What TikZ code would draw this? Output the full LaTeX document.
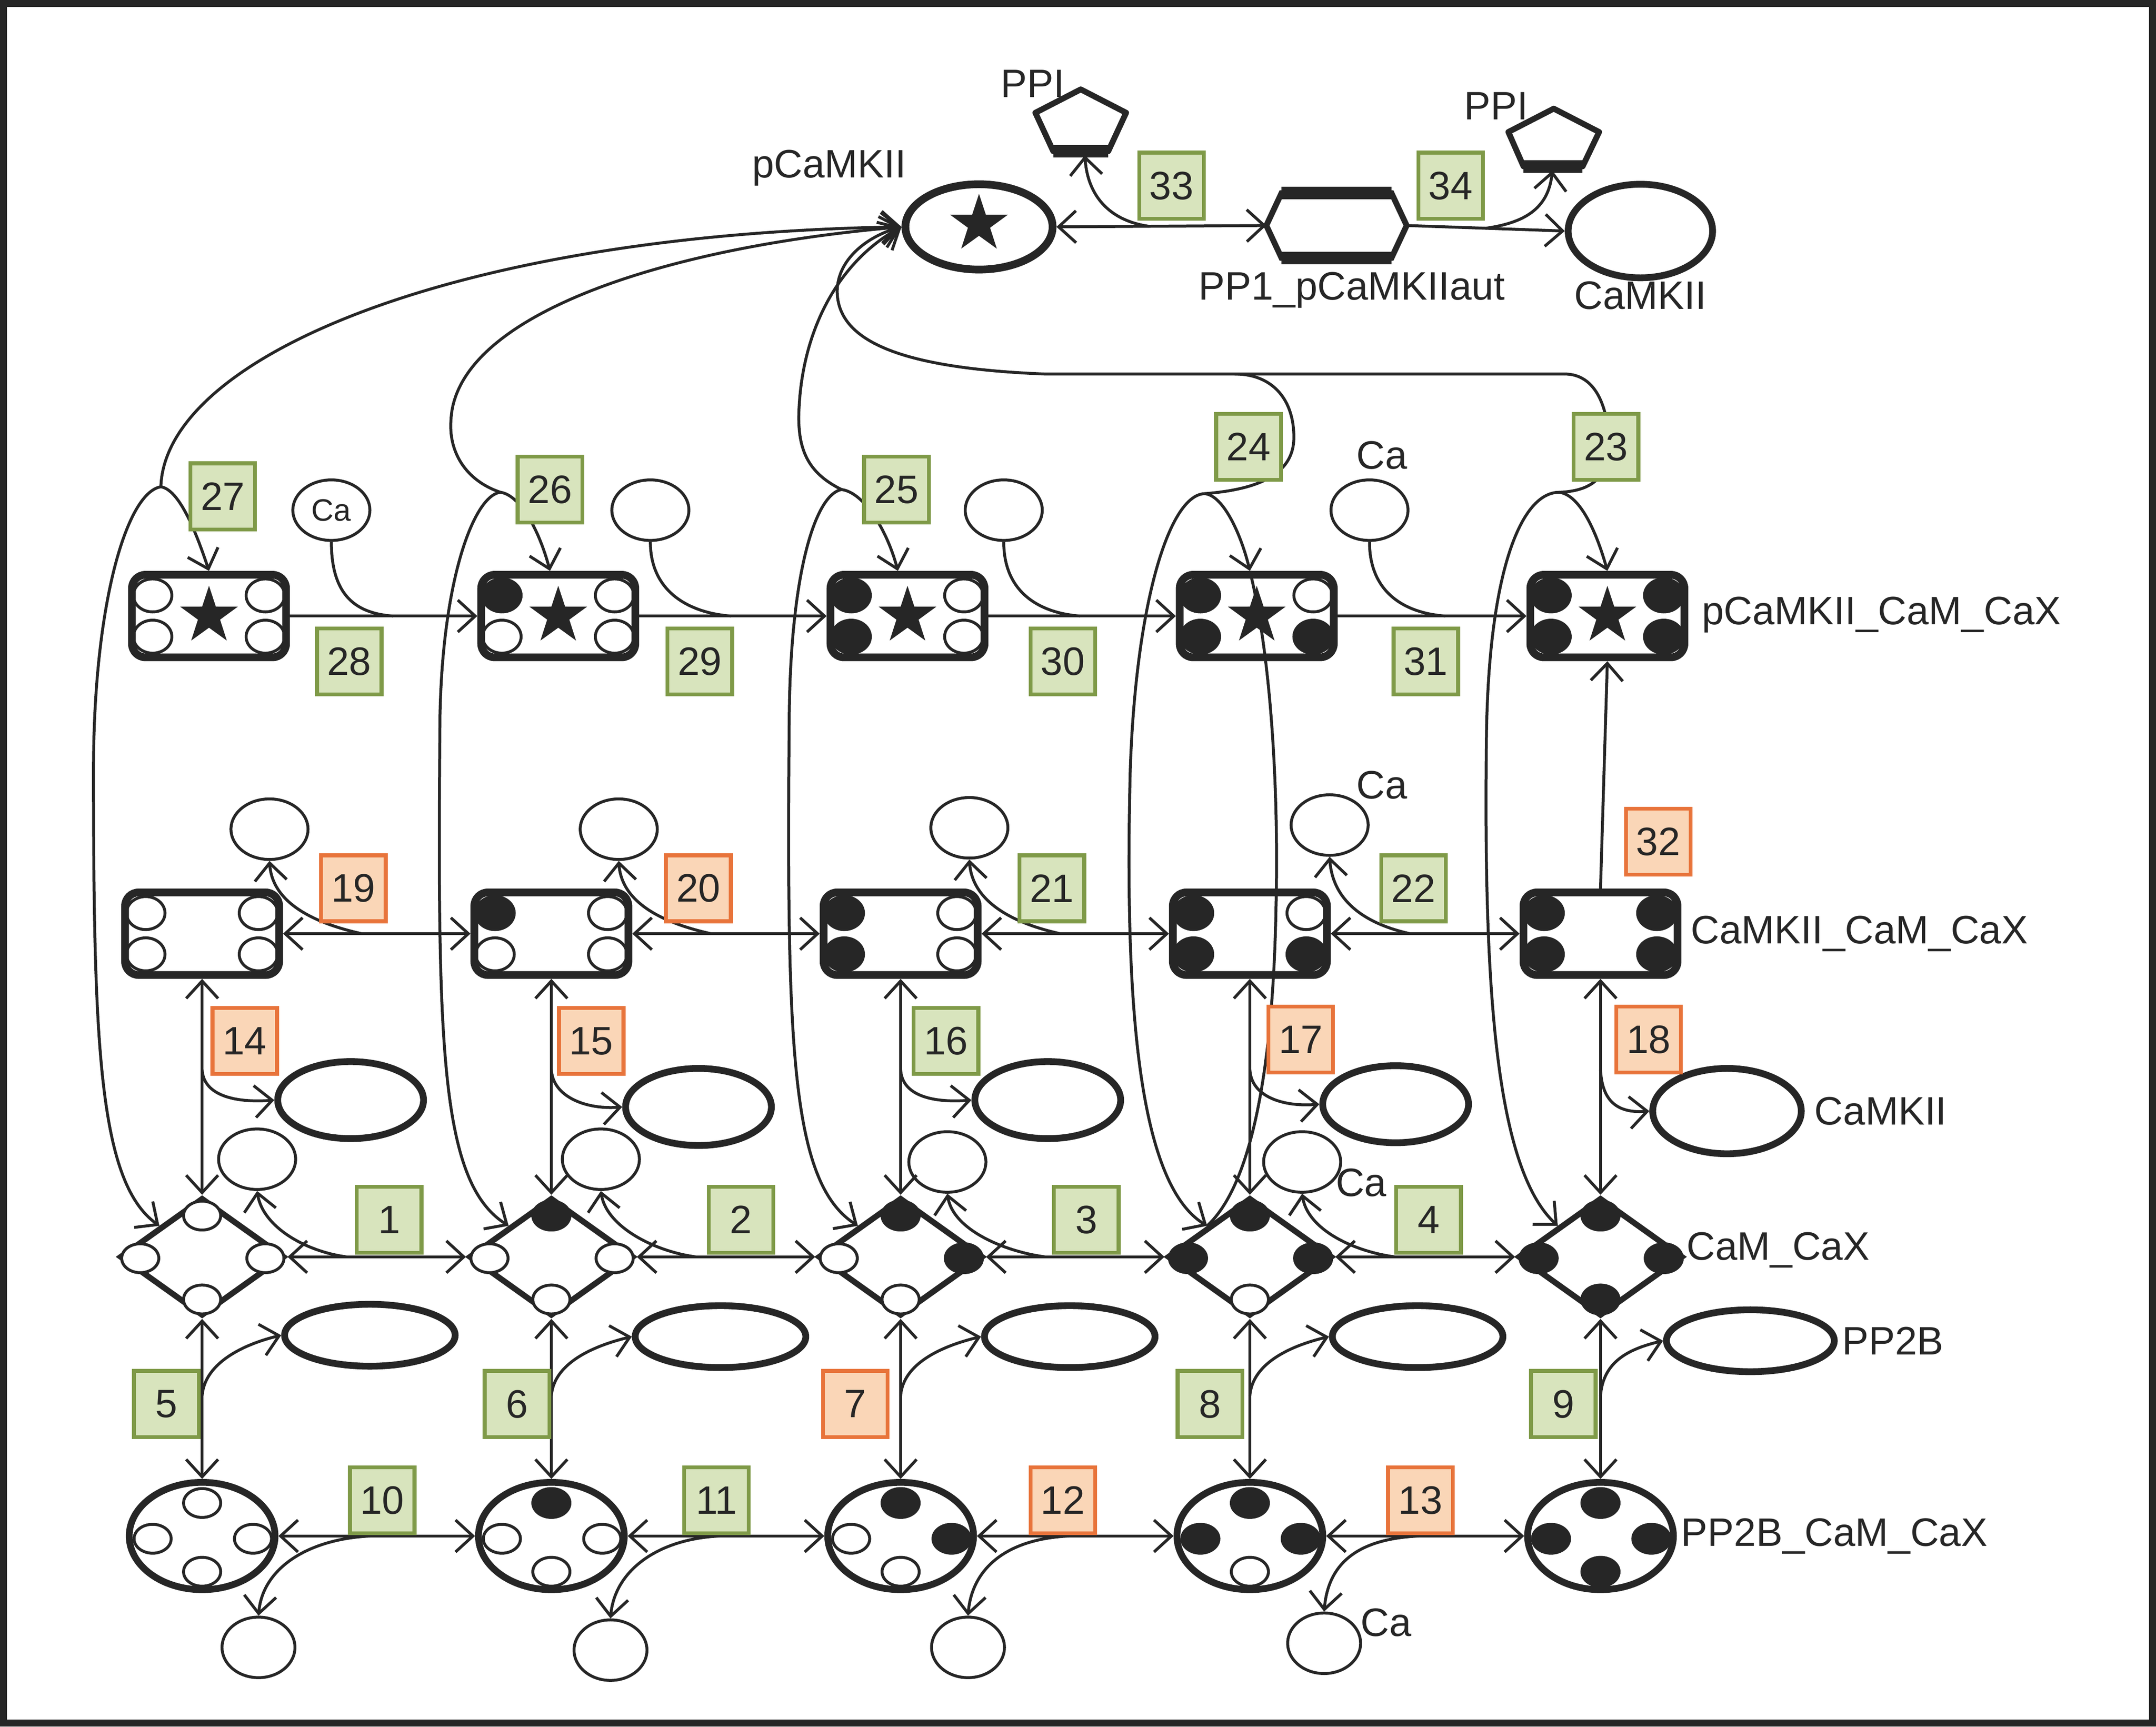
\documentclass[tikz,border=0pt]{standalone}
\usepackage{fontspec}
\setmainfont{Liberation Sans}
\usetikzlibrary{calc,arrows.meta,shapes.geometric}
\definecolor{ink}{HTML}{262626}
\definecolor{fwdfill}{HTML}{D8E4BD}
\definecolor{fwdline}{HTML}{7F9A48}
\definecolor{revfill}{HTML}{FAD6B7}
\definecolor{revline}{HTML}{E8743B}
\tikzset{
  lab/.style={text=ink, font=\fontsize{8.2}{9.8}\selectfont, inner sep=0pt},
  fwd/.style={draw=fwdline, fill=fwdfill, line width=0.8pt, minimum width=0.47cm, minimum height=0.48cm, inner sep=0pt, text=ink, font=\fontsize{8.2}{9.8}\selectfont},
  rev/.style={fwd, draw=revline, fill=revfill},
  rxn/.style={draw=ink, line width=0.6pt},
  ion/.style={ellipse, draw=ink, fill=white, line width=0.6pt, minimum width=0.56cm, minimum height=0.44cm, inner sep=0pt},
  prot/.style={ellipse, draw=ink, fill=white, line width=1.4pt, minimum width=1.06cm, minimum height=0.56cm, inner sep=0pt},
  cplx/.style={rectangle, rounded corners=2.8pt, draw=ink, fill=white, line width=1.6pt, minimum width=1.12cm, minimum height=0.6cm, inner sep=0pt},
  corners/.style n args={4}{path picture={
      \draw[#1] ($(path picture bounding box.center)+(-41,-15)$) ellipse[bs];
      \draw[#2] ($(path picture bounding box.center)+(41,-15)$) ellipse[bs];
      \draw[#3] ($(path picture bounding box.center)+(-41,15)$) ellipse[bs];
      \draw[#4] ($(path picture bounding box.center)+(41,15)$) ellipse[bs];}},
  cam/.style={diamond, draw=ink, fill=white, line width=1.2pt, minimum width=1.2cm, minimum height=0.86cm, inner sep=0pt},
  ppc/.style={ellipse, draw=ink, fill=white, line width=1.4pt, minimum width=1.06cm, minimum height=0.78cm, inner sep=0pt},
  hexa/.style={rectangle, minimum width=1.02cm, minimum height=0.47cm, inner sep=0pt, outer sep=0pt},
  kstar/.style={star, star points=5, star point ratio=2.6, fill=ink, minimum size=0.44cm, inner sep=0pt},
  siteO/.style={draw=ink, fill=white, line width=0.6pt},
  siteF/.style={draw=ink, fill=ink, line width=0.6pt},
  bs/.style={x radius=14, y radius=12},
  ds/.style={x radius=13.5, y radius=10.5},
  >={Straight Barb[length=3.6pt,width=6.6pt]}
}

\begin{document}
\begin{tikzpicture}[x=0.01cm, y=-0.01cm]
    \useasboundingbox (0,0) rectangle (1568,1255.6);
    \draw[ink, line width=1.5pt] (2.5,2.5) rectangle (1565.5,1253);

    % top: pCaMKII, PP1 complex, CaMKII, PPI
    \node[prot, minimum width=1.07cm, minimum height=0.62cm, line width=1.6pt] (pCaMKII) at (712,165) {};
    \node[kstar] (pCaMKIIs) at (712,163) {};
    \node[hexa] (PP1aut) at (972,164) {};
    \draw[ink, line width=1.2pt, fill=white] (PP1aut.west) -- ($(PP1aut.north west)+(11,0)$) -- ($(PP1aut.north east)+(-11,0)$) -- (PP1aut.east) -- ($(PP1aut.south east)+(-11,0)$) -- ($(PP1aut.south west)+(11,0)$) -- cycle;
    \draw[ink, line width=2.6pt] ($(PP1aut.north west)+(11,0)$) -- ($(PP1aut.north east)+(-11,0)$);
    \draw[ink, line width=2.6pt] ($(PP1aut.south west)+(11,0)$) -- ($(PP1aut.south east)+(-11,0)$);
    \node[prot, minimum width=1.05cm, minimum height=0.68cm] (CaMKIItop) at (1193,168) {};
    \draw[ink, line width=1.2pt, fill=white, line join=round] (786,65) -- (819,82) -- (806,110) -- (766,110) -- (753,82) -- cycle;
    \draw[ink, line width=2.6pt] (766,110) -- (806,110);
    \coordinate (ppiA) at (789,113);
    \draw[ink, line width=1.2pt, fill=white, line join=round] (1130,79) -- (1163,96) -- (1151,121) -- (1108,121) -- (1097,96) -- cycle;
    \draw[ink, line width=2.6pt] (1108,121) -- (1151,121);
    \coordinate (ppiB) at (1129,124);

    % pCaMKII_CaM_CaX
    \node[cplx, corners={siteO}{siteO}{siteO}{siteO}] (pcx0) at (152,448) {};
    \node[cplx, corners={siteF}{siteO}{siteO}{siteO}] (pcx1) at (406,448) {};
    \node[cplx, corners={siteF}{siteO}{siteF}{siteO}] (pcx2) at (660,448) {};
    \node[cplx, corners={siteF}{siteO}{siteF}{siteF}] (pcx3) at (914,448) {};
    \node[cplx, corners={siteF}{siteF}{siteF}{siteF}] (pcx4) at (1169,448) {};
    \node[kstar] (pcx0s) at (pcx0) {};
    \node[kstar] (pcx1s) at (pcx1) {};
    \node[kstar] (pcx2s) at (pcx2) {};
    \node[kstar] (pcx3s) at (pcx3) {};
    \node[kstar] (pcx4s) at (pcx4) {};

    % CaMKII_CaM_CaX
    \node[cplx, corners={siteO}{siteO}{siteO}{siteO}] (kcx0) at (147,679) {};
    \node[cplx, corners={siteF}{siteO}{siteO}{siteO}] (kcx1) at (401,679) {};
    \node[cplx, corners={siteF}{siteO}{siteF}{siteO}] (kcx2) at (655,679) {};
    \node[cplx, corners={siteF}{siteO}{siteF}{siteF}] (kcx3) at (909,679) {};
    \node[cplx, corners={siteF}{siteF}{siteF}{siteF}] (kcx4) at (1164,679) {};

    % CaM_CaX
    \node[cam] (cmx0) at (147,914) {};
    \node[cam] (cmx1) at (401,914) {};
    \node[cam] (cmx2) at (655,914) {};
    \node[cam] (cmx3) at (909,914) {};
    \node[cam] (cmx4) at (1164,914) {};
    \draw[siteO] ($(cmx0)+(0,-30)$) ellipse[ds] ($(cmx0)+(-45,1)$) ellipse[ds] ($(cmx0)+(46,1)$) ellipse[ds] ($(cmx0)+(0,31)$) ellipse[ds];
    \draw[siteF] ($(cmx1)+(0,-30)$) ellipse[ds];
    \draw[siteO] ($(cmx1)+(-45,1)$) ellipse[ds] ($(cmx1)+(46,1)$) ellipse[ds] ($(cmx1)+(0,31)$) ellipse[ds];
    \draw[siteF] ($(cmx2)+(0,-30)$) ellipse[ds] ($(cmx2)+(46,1)$) ellipse[ds];
    \draw[siteO] ($(cmx2)+(-45,1)$) ellipse[ds] ($(cmx2)+(0,31)$) ellipse[ds];
    \draw[siteF] ($(cmx3)+(0,-30)$) ellipse[ds] ($(cmx3)+(-45,1)$) ellipse[ds] ($(cmx3)+(46,1)$) ellipse[ds];
    \draw[siteO] ($(cmx3)+(0,31)$) ellipse[ds];
    \draw[siteF] ($(cmx4)+(0,-30)$) ellipse[ds] ($(cmx4)+(-45,1)$) ellipse[ds] ($(cmx4)+(46,1)$) ellipse[ds] ($(cmx4)+(0,31)$) ellipse[ds];

    % PP2B_CaM_CaX
    \node[ppc] (bcx0) at (147,1117) {};
    \node[ppc] (bcx1) at (401,1117) {};
    \node[ppc] (bcx2) at (655,1117) {};
    \node[ppc] (bcx3) at (909,1117) {};
    \node[ppc] (bcx4) at (1164,1117) {};
    \draw[siteO] ($(bcx0)+(0,-24)$) ellipse[ds] ($(bcx0)+(-36,2)$) ellipse[ds] ($(bcx0)+(37,2)$) ellipse[ds] ($(bcx0)+(0,26)$) ellipse[ds];
    \draw[siteF] ($(bcx1)+(0,-24)$) ellipse[ds];
    \draw[siteO] ($(bcx1)+(-36,2)$) ellipse[ds] ($(bcx1)+(37,2)$) ellipse[ds] ($(bcx1)+(0,26)$) ellipse[ds];
    \draw[siteF] ($(bcx2)+(0,-24)$) ellipse[ds] ($(bcx2)+(37,2)$) ellipse[ds];
    \draw[siteO] ($(bcx2)+(-36,2)$) ellipse[ds] ($(bcx2)+(0,26)$) ellipse[ds];
    \draw[siteF] ($(bcx3)+(0,-24)$) ellipse[ds] ($(bcx3)+(-36,2)$) ellipse[ds] ($(bcx3)+(37,2)$) ellipse[ds];
    \draw[siteO] ($(bcx3)+(0,26)$) ellipse[ds];
    \draw[siteF] ($(bcx4)+(0,-24)$) ellipse[ds] ($(bcx4)+(-36,2)$) ellipse[ds] ($(bcx4)+(37,2)$) ellipse[ds] ($(bcx4)+(0,26)$) ellipse[ds];

    % free Ca, CaMKII and PP2B
    \node[ion, font=\fontsize{6.4}{7}\selectfont, text=ink] (caA0) at (241,371) {Ca};
    \node[ion] (caA1) at (473,371) {};
    \node[ion] (caA2) at (730,371) {};
    \node[ion] (caA3) at (996,371) {};
    \node[ion] (caB0) at (196,603) {};
    \node[ion] (caB1) at (450,603) {};
    \node[ion] (caB2) at (705,602) {};
    \node[ion] (caB3) at (967,600) {};
    \node[ion] (caC0) at (187,843) {};
    \node[ion] (caC1) at (437,843) {};
    \node[ion] (caC2) at (689,845) {};
    \node[ion] (caC3) at (947,845) {};
    \node[ion, minimum width=0.53cm] (caD0) at (188,1198) {};
    \node[ion, minimum width=0.53cm] (caD1) at (444,1200) {};
    \node[ion, minimum width=0.53cm] (caD2) at (704,1198) {};
    \node[ion, minimum width=0.53cm] (caD3) at (963,1195) {};
    \node[prot] (kin0) at (255,800) {};
    \node[prot] (kin1) at (508,805) {};
    \node[prot] (kin2) at (762,800) {};
    \node[prot] (kin3) at (1015,803) {};
    \node[prot, minimum width=1.08cm, minimum height=0.62cm] (kin4) at (1256,808) {};
    \node[prot, minimum width=1.24cm, minimum height=0.45cm] (pp2b0) at (269,971) {};
    \node[prot, minimum width=1.24cm, minimum height=0.45cm] (pp2b1) at (524,972) {};
    \node[prot, minimum width=1.24cm, minimum height=0.45cm] (pp2b2) at (778,972) {};
    \node[prot, minimum width=1.24cm, minimum height=0.45cm] (pp2b3) at (1031,972) {};
    \node[prot, minimum width=1.22cm, minimum height=0.45cm] (pp2b4) at (1273,975) {};

    % autophosphorylation and PP1 (33, 34)
    \draw[rxn,<->] (pCaMKII.east) -- (PP1aut.west);
    \draw[rxn,->] ($(pCaMKII.east)!0.44!(PP1aut.west)$) .. controls +(-28,-4) and +(2,30) .. (ppiA);
    \draw[rxn,->] (PP1aut.east) -- (CaMKIItop.west);
    \draw[rxn,->] ($(PP1aut.east)!0.5!(CaMKIItop.west)$) .. controls +(28,-4) and +(-3,28) .. (ppiB);

    % Ca binding on pCaMKII_CaM_CaX (28-31)
    \draw[rxn,->] (pcx0.east) -- (pcx1.west);
    \draw[rxn] (caA0.south) .. controls +(0,38) and +(-28,-2) .. ($(pcx0.east)!0.55!(pcx1.west)$);
    \draw[rxn,->] (pcx1.east) -- (pcx2.west);
    \draw[rxn] (caA1.south) .. controls +(0,38) and +(-28,-2) .. ($(pcx1.east)!0.49!(pcx2.west)$);
    \draw[rxn,->] (pcx2.east) -- (pcx3.west);
    \draw[rxn] (caA2.south) .. controls +(0,38) and +(-28,-2) .. ($(pcx2.east)!0.49!(pcx3.west)$);
    \draw[rxn,->] (pcx3.east) -- (pcx4.west);
    \draw[rxn] (caA3.south) .. controls +(0,38) and +(-28,-2) .. ($(pcx3.east)!0.57!(pcx4.west)$);

    % Ca binding on CaMKII_CaM_CaX (19-22)
    \draw[rxn,<->] (kcx0.east) -- (kcx1.west);
    \draw[rxn,->] ($(kcx0.east)!0.42!(kcx1.west)$) .. controls +(-36,-8) and +(2,30) .. (caB0.south);
    \draw[rxn,<->] (kcx1.east) -- (kcx2.west);
    \draw[rxn,->] ($(kcx1.east)!0.42!(kcx2.west)$) .. controls +(-36,-8) and +(2,30) .. (caB1.south);
    \draw[rxn,<->] (kcx2.east) -- (kcx3.west);
    \draw[rxn,->] ($(kcx2.east)!0.42!(kcx3.west)$) .. controls +(-36,-8) and +(2,30) .. (caB2.south);
    \draw[rxn,<->] (kcx3.east) -- (kcx4.west);
    \draw[rxn,->] ($(kcx3.east)!0.42!(kcx4.west)$) .. controls +(-36,-8) and +(2,30) .. (caB3.south);

    % Ca binding on CaM_CaX (1-4)
    \draw[rxn,<->] (cmx0.east) -- (cmx1.west);
    \draw[rxn,->] ($(cmx0.east)!0.33!(cmx1.west)$) .. controls +(-30,-4) and +(4,26) .. (caC0.south);
    \draw[rxn,<->] (cmx1.east) -- (cmx2.west);
    \draw[rxn,->] ($(cmx1.east)!0.33!(cmx2.west)$) .. controls +(-30,-4) and +(4,26) .. (caC1.south);
    \draw[rxn,<->] (cmx2.east) -- (cmx3.west);
    \draw[rxn,->] ($(cmx2.east)!0.33!(cmx3.west)$) .. controls +(-30,-4) and +(4,26) .. (caC2.south);
    \draw[rxn,<->] (cmx3.east) -- (cmx4.west);
    \draw[rxn,->] ($(cmx3.east)!0.33!(cmx4.west)$) .. controls +(-30,-4) and +(4,26) .. (caC3.south);

    % Ca binding on PP2B_CaM_CaX (10-13)
    \draw[rxn,<->] (bcx0.east) -- (bcx1.west);
    \draw[rxn,->] ($(bcx0.east)!0.47!(bcx1.west)$) .. controls +(-45,2) and +(3,-35) .. (caD0.north);
    \draw[rxn,<->] (bcx1.east) -- (bcx2.west);
    \draw[rxn,->] ($(bcx1.east)!0.47!(bcx2.west)$) .. controls +(-45,2) and +(3,-35) .. (caD1.north);
    \draw[rxn,<->] (bcx2.east) -- (bcx3.west);
    \draw[rxn,->] ($(bcx2.east)!0.47!(bcx3.west)$) .. controls +(-45,2) and +(3,-35) .. (caD2.north);
    \draw[rxn,<->] (bcx3.east) -- (bcx4.west);
    \draw[rxn,->] ($(bcx3.east)!0.47!(bcx4.west)$) .. controls +(-45,2) and +(3,-35) .. (caD3.north);

    % CaMKII binding (14-18)
    \draw[rxn,<->] (kcx0.south) -- (cmx0.north);
    \draw[rxn,->] ($(kcx0.south)!0.42!(cmx0.north)$) .. controls +(1,20) and +(-26,2) .. (kin0.west);
    \draw[rxn,<->] (kcx1.south) -- (cmx1.north);
    \draw[rxn,->] ($(kcx1.south)!0.42!(cmx1.north)$) .. controls +(1,20) and +(-26,2) .. (kin1.west);
    \draw[rxn,<->] (kcx2.south) -- (cmx2.north);
    \draw[rxn,->] ($(kcx2.south)!0.42!(cmx2.north)$) .. controls +(1,20) and +(-26,2) .. (kin2.west);
    \draw[rxn,<->] (kcx3.south) -- (cmx3.north);
    \draw[rxn,->] ($(kcx3.south)!0.42!(cmx3.north)$) .. controls +(1,20) and +(-26,2) .. (kin3.west);
    \draw[rxn,<->] (kcx4.south) -- (cmx4.north);
    \draw[rxn,->] ($(kcx4.south)!0.42!(cmx4.north)$) .. controls +(1,20) and +(-26,2) .. (kin4.west);

    % PP2B binding (5-9)
    \draw[rxn,<->] (cmx0.south) -- (bcx0.north);
    \draw[rxn,->] ($(cmx0.south)!0.48!(bcx0.north)$) .. controls +(2,-25) and +(-25,6) .. (pp2b0.west);
    \draw[rxn,<->] (cmx1.south) -- (bcx1.north);
    \draw[rxn,->] ($(cmx1.south)!0.48!(bcx1.north)$) .. controls +(2,-25) and +(-25,6) .. (pp2b1.west);
    \draw[rxn,<->] (cmx2.south) -- (bcx2.north);
    \draw[rxn,->] ($(cmx2.south)!0.48!(bcx2.north)$) .. controls +(2,-25) and +(-25,6) .. (pp2b2.west);
    \draw[rxn,<->] (cmx3.south) -- (bcx3.north);
    \draw[rxn,->] ($(cmx3.south)!0.48!(bcx3.north)$) .. controls +(2,-25) and +(-25,6) .. (pp2b3.west);
    \draw[rxn,<->] (cmx4.south) -- (bcx4.north);
    \draw[rxn,->] ($(cmx4.south)!0.48!(bcx4.north)$) .. controls +(2,-25) and +(-25,6) .. (pp2b4.west);

    % 32
    \draw[rxn,->] (kcx4.north) -- (pcx4.south);

    % pCaMKII binding loops (23-27)
    \coordinate (top0) at (117,354);
    \coordinate (top1) at (364,358);
    \coordinate (top2) at (612,356);
    \coordinate (top3) at (876,359);
    \coordinate (top4) at (1134,358);
    \coordinate (hubA) at (760,272);
    \coordinate (hubB) at (898,272);
    \coordinate (hubC) at (1138,272);
    \draw[rxn,->] (top0) .. controls (92,358) and (68,440) .. (68,560) .. controls (68,760) and (72,860) .. (cmx0.north west);
    \draw[rxn,->] (top0) .. controls (130,356) and (142,385) .. (pcx0.north);
    \draw[rxn,->] (top0) .. controls (120,260) and (330,170) .. (pCaMKII.west);
    \draw[rxn,->] (top1) .. controls (345,360) and (322,420) .. (320,520) .. controls (318,760) and (320,860) .. (cmx1.north west);
    \draw[rxn,->] (top1) .. controls (378,360) and (392,385) .. ($(pcx1.north)+(-6,0)$);
    \draw[rxn,->] (top1) .. controls (340,350) and (326,330) .. (328,305) .. controls (332,230) and (480,180) .. (pCaMKII.west);
    \draw[rxn,->] (top2) .. controls (592,360) and (575,420) .. (574,520) .. controls (572,760) and (575,860) .. (cmx2.north west);
    \draw[rxn,->] (top2) .. controls (628,358) and (645,385) .. ($(pcx2.north)+(-7,0)$);
    \draw[rxn,->] (top2) .. controls (590,345) and (580,330) .. (581,300) .. controls (583,240) and (610,190) .. (pCaMKII.west);
    \draw[rxn,->] (hubC) -- (hubA) .. controls (660,268) and (612,250) .. (609,215) .. controls (607,190) and (630,172) .. (pCaMKII.west);
    \draw[rxn,->] (top3) .. controls (850,360) and (826,440) .. (822,560) .. controls (818,720) and (826,860) .. (cmx3.north west);
    \draw[rxn,->] (top3) .. controls (890,360) and (903,390) .. ($(pcx3.north)+(-5,0)$);
    \draw[rxn] ($(pcx3.north)+(-5,0)$) .. controls (925,480) and (930,580) .. (928,660) .. controls (926,770) and (912,860) .. (cmx3.north west);
    \draw[rxn] (top3) .. controls (915,356) and (941,345) .. (941,318) .. controls (941,290) and (925,272) .. (hubB);
    \draw[rxn,->] (top4) .. controls (1105,358) and (1082,420) .. (1081,540) .. controls (1079,720) and (1088,850) .. (cmx4.north west);
    \draw[rxn,->] (top4) .. controls (1150,360) and (1162,390) .. (pcx4.north);
    \draw[rxn] (top4) .. controls (1160,357) and (1171,345) .. (1170,320) .. controls (1169,295) and (1160,272) .. (hubC);

    % reaction numbers
    \node[fwd] (r33) at (852,135) {33};
    \node[fwd] (r34) at (1055,135) {34};
    \node[fwd] (r27) at (162,361) {27};
    \node[fwd] (r26) at (400,356) {26};
    \node[fwd] (r25) at (652,356) {25};
    \node[fwd] (r24) at (908,325) {24};
    \node[fwd] (r23) at (1168,325) {23};
    \node[fwd] (r28) at (254,481) {28};
    \node[fwd] (r29) at (509,481) {29};
    \node[fwd] (r30) at (773,481) {30};
    \node[fwd] (r31) at (1037,481) {31};
    \node[rev] (r32) at (1206,612) {32};
    \node[rev] (r19) at (257,646) {19};
    \node[rev] (r20) at (508,646) {20};
    \node[fwd] (r21) at (765,646) {21};
    \node[fwd] (r22) at (1028,646) {22};
    \node[rev] (r14) at (178,757) {14};
    \node[rev] (r15) at (430,757) {15};
    \node[fwd] (r16) at (688,757) {16};
    \node[rev] (r17) at (946,756) {17};
    \node[rev] (r18) at (1199,756) {18};
    \node[fwd] (r1) at (283,887) {1};
    \node[fwd] (r2) at (539,887) {2};
    \node[fwd] (r3) at (790,887) {3};
    \node[fwd] (r4) at (1039,887) {4};
    \node[fwd] (r5) at (121,1021) {5};
    \node[fwd] (r6) at (376,1021) {6};
    \node[rev] (r7) at (622,1021) {7};
    \node[fwd] (r8) at (880,1021) {8};
    \node[fwd] (r9) at (1137,1021) {9};
    \node[fwd] (r10) at (278,1091) {10};
    \node[fwd] (r11) at (521,1091) {11};
    \node[rev] (r12) at (773,1091) {12};
    \node[rev] (r13) at (1033,1091) {13};

    % names
    \node[lab] (tpCaMKII) at (603,122) {pCaMKII};
    \node[lab] (tPPIa) at (751,61) {PPI};
    \node[lab] (tPPIb) at (1088,77) {PPI};
    \node[lab] (tPP1aut) at (983,211) {PP1\_pCaMKIIaut};
    \node[lab] (tCaMKIItop) at (1193,215) {CaMKII};
    \node[lab, anchor=west] (tpcx) at (1237,447) {pCaMKII\_CaM\_CaX};
    \node[lab, anchor=west] (tkcx) at (1229,679) {CaMKII\_CaM\_CaX};
    \node[lab, anchor=west] (tkin) at (1319,808) {CaMKII};
    \node[lab, anchor=west] (tcmx) at (1226,909) {CaM\_CaX};
    \node[lab, anchor=west] (tpp2b) at (1339,975) {PP2B};
    \node[lab, anchor=west] (tbcx) at (1222,1117) {PP2B\_CaM\_CaX};
    \node[lab] (tCaA) at (1005,331) {Ca};
    \node[lab] (tCaB) at (1005,571) {Ca};
    \node[lab] (tCaC) at (990,860) {Ca};
    \node[lab] (tCaD) at (1008,1180) {Ca};
\end{tikzpicture}
\end{document}
